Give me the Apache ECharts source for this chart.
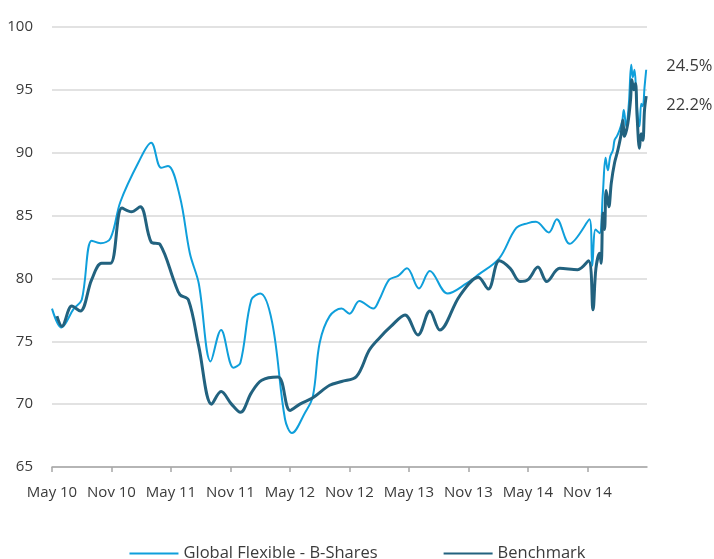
<!DOCTYPE html>
<html>
<head>
<meta charset="utf-8">
<script src="https://cdn.jsdelivr.net/npm/echarts@6.0.0/dist/echarts.min.js"></script>
<style>
  html, body { margin: 0; padding: 0; background: #fff; }
  #chart { width: 714px; height: 559px; }
</style>
</head>
<body>
<div id="chart"></div>
<script>
// x values are months counted from May 2010
const tickMonths = [0, 6, 12, 18, 24, 30, 36, 42, 48, 54]
const tickLabels = ['May 10', 'Nov 10', 'May 11', 'Nov 11', 'May 12', 'Nov 12', 'May 13', 'Nov 13', 'May 14', 'Nov 14']

const seriesNames = ['Global Flexible - B-Shares', 'Benchmark']
const endLabels = ['24.5%', '22.2%']

const fundMonths = [
  0, 0.95, 2.2, 3.0, 4.0, 4.9, 5.9, 6.9, 8.7, 10.0, 11.0, 11.7, 12.9, 13.9, 14.8, 16.0,
  17.05, 18.3, 19.0, 20.1, 21.0, 22.2, 23.5, 24.2, 25.5, 26.3, 27.0, 28.0, 29.2, 30.0,
  31.0, 32.4, 33.0, 34.0, 34.9, 35.8, 37.0, 38.1, 39.9, 41.8, 43.0, 45.1, 46.8, 48.0,
  48.8, 50.1, 50.9, 52.2, 54.2, 54.48, 54.81, 55.22, 55.55, 55.82, 56.05, 56.29, 56.56,
  56.73, 56.96, 57.23, 57.5, 57.66, 57.9, 58.17, 58.41, 58.57, 58.74, 58.91, 59.07,
  59.24, 59.42, 59.58, 59.75, 59.92
]
const fundValues = [
  77.6, 76.1, 77.6, 78.3, 83.0, 82.8, 83.2, 86.1, 89.2, 90.8, 88.8, 88.95, 86.5, 82.0, 79.6, 73.4,
  75.9, 72.9, 73.3, 78.3, 78.8, 76.5, 68.8, 67.7, 69.3, 70.6, 74.9, 77.0, 77.6, 77.2,
  78.2, 77.6, 78.3, 79.9, 80.2, 80.8, 79.2, 80.6, 78.8, 79.6, 80.3, 81.6, 84.0, 84.4,
  84.5, 83.65, 84.7, 82.75, 84.7, 81.0, 83.9, 83.6, 86.8, 89.6, 88.6, 89.7, 90.2,
  91.0, 91.3, 91.8, 92.5, 93.4, 92.1, 93.9, 97.0, 96.0, 96.6, 94.7, 92.9,
  92.1, 93.9, 93.7, 95.2, 96.6
]

const benchMonths = [
  0.5, 1.0, 2.0, 2.85, 4.0, 5.0, 5.9, 7.05, 8.0, 8.9, 10.0, 10.9, 12.4, 12.9, 13.75, 14.8,
  16.1, 17.05, 18.1, 19.0, 20.1, 21.15, 22.8, 24.0, 25.0, 26.3, 28.0, 29.2, 30.7, 32.0,
  33.0, 34.2, 35.6, 36.9, 38.1, 39.1, 41.1, 43.0, 44.0, 45.1, 46.2, 47.2, 48.0, 49.0,
  49.9, 51.2, 53.0, 54.1, 54.55, 54.85, 55.22, 55.38, 55.55, 55.72, 55.88, 56.15, 56.4,
  56.73, 57.06, 57.4, 57.56, 57.73, 58.07, 58.34, 58.47, 58.67, 58.84, 59.0, 59.24,
  59.4, 59.58, 59.75, 59.92
]
const benchValues = [
  77.0, 76.2, 77.8, 77.4, 79.9, 81.2, 81.2, 85.6, 85.3, 85.7, 82.9, 82.7, 79.6, 78.7, 78.3, 74.6,
  70.0, 71.0, 70.0, 69.35, 70.9, 71.9, 72.15, 69.5, 70.0, 70.5, 71.5, 71.8, 72.2, 74.3,
  75.25, 76.2, 77.1, 75.5, 77.4, 75.9, 78.6, 80.1, 79.15, 81.4, 80.8, 79.75, 79.9, 80.9,
  79.75, 80.8, 80.7, 81.4, 77.5, 80.8, 82.0, 81.2, 85.2, 83.9, 87.0, 85.7, 87.6,
  89.2, 90.2, 91.5, 92.6, 91.3, 92.35, 94.2, 95.8, 95.0, 95.5, 92.9, 90.35,
  91.5, 91.0, 93.4, 94.5
]

const FONT = 'Open Sans'
const TEXT_COLOR = '#3b3b3b'
const FUND_COLOR = '#0f9fdb'
const BENCH_COLOR = '#22627f'

const toPairs = (xs, ys) => xs.map((x, i) => [x, ys[i]])

const chart = echarts.init(document.getElementById('chart'), null, { renderer: 'canvas' })

chart.setOption({
  animation: false,
  backgroundColor: '#fff',
  textStyle: { fontFamily: FONT },
  grid: {
    left: 52,
    right: 67,
    top: 27,
    bottom: 92,
  },
  legend: {
    top: 540,
    left: 'center',
    itemWidth: 49,
    itemHeight: 14,
    itemGap: 65,
    // hide the marker dot, keep only the line
    itemStyle: { opacity: 0 },
    textStyle: {
      fontFamily: FONT,
      fontSize: 16.5,
      color: TEXT_COLOR,
    },
    data: seriesNames,
  },
  xAxis: {
    type: 'value',
    min: 0,
    max: 60,
    interval: 6,
    axisLine: {
      lineStyle: { color: '#a6a6a6', width: 1.5 },
    },
    axisTick: {
      show: true,
      length: 5,
      customValues: tickMonths,
      lineStyle: { color: '#a6a6a6', width: 1.5 },
    },
    axisLabel: {
      customValues: tickMonths,
      margin: 18,
      fontFamily: FONT,
      fontSize: 15,
      color: TEXT_COLOR,
      formatter: (v) => tickLabels[tickMonths.indexOf(v)] || '',
    },
    splitLine: { show: false },
  },
  yAxis: {
    type: 'value',
    min: 65,
    max: 100,
    interval: 5,
    axisLine: { show: false },
    axisTick: { show: false },
    axisLabel: {
      margin: 19,
      fontFamily: FONT,
      fontSize: 15,
      color: TEXT_COLOR,
    },
    splitLine: {
      lineStyle: { color: '#d9d9d9', width: 1.5 },
    },
  },
  series: [
    {
      name: seriesNames[0],
      type: 'line',
      smooth: 0.35,
      symbol: 'none',
      z: 2,
      lineStyle: { color: FUND_COLOR, width: 2 },
      itemStyle: { color: FUND_COLOR },
      endLabel: {
        show: true,
        formatter: () => endLabels[0],
        distance: 20,
        offset: [0, -3],
        fontFamily: FONT,
        fontSize: 16.5,
        color: TEXT_COLOR,
      },
      data: toPairs(fundMonths, fundValues),
    },
    {
      name: seriesNames[1],
      type: 'line',
      smooth: 0.35,
      symbol: 'none',
      z: 3,
      lineStyle: { color: BENCH_COLOR, width: 3 },
      itemStyle: { color: BENCH_COLOR },
      endLabel: {
        show: true,
        formatter: () => endLabels[1],
        distance: 20,
        offset: [0, 9],
        fontFamily: FONT,
        fontSize: 16.5,
        color: TEXT_COLOR,
      },
      data: toPairs(benchMonths, benchValues),
    },
  ],
})
</script>
</body>
</html>
